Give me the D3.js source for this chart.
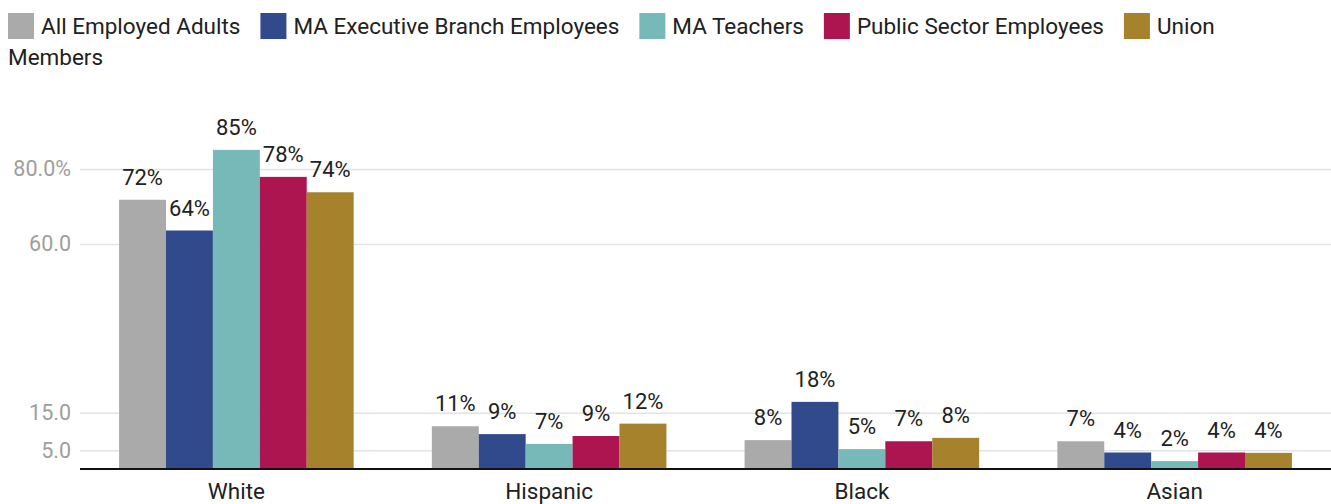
<!DOCTYPE html>
<html>
<head>
<meta charset="utf-8">
<script src="https://cdn.jsdelivr.net/npm/d3@7"></script>
<style>
  body { margin: 0; background: #fff; }
  text { font-family: Roboto, "Noto Sans", sans-serif; }
</style>
</head>
<body>
<div id="chart"></div>
<script>
var categories = ["White", "Hispanic", "Black", "Asian"];
var seriesNames = ["All Employed Adults", "MA Executive Branch Employees", "MA Teachers", "Public Sector Employees", "Union Members"];
var colors = ["#aaaaaa", "#314a8c", "#76b9b8", "#ad1550", "#a5822b"];
var allEmployed = [71.8, 11.4, 7.7, 7.4];
var execBranch = [63.6, 9.3, 17.9, 4.4];
var teachers = [85.1, 6.7, 5.3, 2.1];
var publicSector = [77.9, 8.8, 7.4, 4.4];
var unionMembers = [73.8, 12.1, 8.3, 4.3];
var tickValues = [5, 15, 60, 80];

var series = [allEmployed, execBranch, teachers, publicSector, unionMembers];

var width = 1331, height = 504;
var plotLeft = 80, plotRight = 1331, plotBottom = 469;

var svg = d3.select("#chart").append("svg")
  .attr("width", width)
  .attr("height", height);

var x0 = d3.scaleBand()
  .domain(categories)
  .range([plotLeft, plotRight])
  .paddingInner(0.25)
  .paddingOuter(0.125);

var x1 = d3.scaleBand()
  .domain(d3.range(series.length))
  .range([0, x0.bandwidth()]);

var y = d3.scaleLinear()
  .domain([0, 100])
  .range([plotBottom, 94]);

// gridlines + tick labels
var yAxis = d3.axisLeft(y)
  .tickValues(tickValues)
  .tickSize(-(plotRight - plotLeft))
  .tickPadding(9)
  .tickFormat(function(d) { return d === 80 ? d.toFixed(1) + "%" : d.toFixed(1); });

var gy = svg.append("g")
  .attr("transform", "translate(" + plotLeft + ",0)")
  .call(yAxis);
gy.select(".domain").remove();
gy.selectAll(".tick line").attr("stroke", "#e3e3e3").attr("stroke-width", 1.6);
gy.selectAll(".tick text")
  .attr("fill", "#9e9e9e")
  .style("font-size", "21.5px");

// bars
var groups = svg.selectAll(".group")
  .data(categories)
  .enter().append("g")
  .attr("class", "group")
  .attr("transform", function(d) { return "translate(" + x0(d) + ",0)"; });

groups.selectAll("rect")
  .data(function(d, i) { return series.map(function(s, k) { return { k: k, v: s[i] }; }); })
  .enter().append("rect")
  .attr("x", function(d) { return x1(d.k); })
  .attr("width", x1.bandwidth())
  .attr("y", function(d) { return y(d.v); })
  .attr("height", function(d) { return plotBottom - y(d.v); })
  .attr("fill", function(d) { return colors[d.k]; });

groups.selectAll(".lbl")
  .data(function(d, i) { return series.map(function(s, k) { return { k: k, v: s[i] }; }); })
  .enter().append("text")
  .attr("class", "lbl")
  .attr("x", function(d) { return x1(d.k) + x1.bandwidth() / 2; })
  .attr("y", function(d) { return y(d.v) - 15; })
  .attr("text-anchor", "middle")
  .attr("fill", "#212121")
  .style("font-size", "22px")
  .text(function(d) { return Math.round(d.v) + "%"; });

// baseline
svg.append("line")
  .attr("x1", plotLeft).attr("x2", plotRight)
  .attr("y1", plotBottom).attr("y2", plotBottom)
  .attr("stroke", "#111").attr("stroke-width", 2);

// category labels
var xAxis = d3.axisBottom(x0).tickSize(0).tickPadding(0);
var gx = svg.append("g")
  .attr("transform", "translate(0," + plotBottom + ")")
  .call(xAxis);
gx.select(".domain").remove();
gx.selectAll(".tick text")
  .attr("dy", null)
  .attr("y", 30)
  .attr("fill", "#212121")
  .style("font-size", "22.5px");

// legend, flowing words like wrapped text
var legend = svg.append("g").attr("class", "legend");
var fs = "22.5px";
var lx = 8, ly = 34, lineH = 31, maxX = 1280;
var measure = legend.append("text").style("font-size", fs);
function textW(s) { measure.text(s); return measure.node().getComputedTextLength(); }

seriesNames.forEach(function(name, i) {
  if (lx + 33 + textW(name.split(" ")[0]) > maxX) { lx = 8; ly += lineH; }
  legend.append("rect")
    .attr("x", lx).attr("y", ly - 21)
    .attr("width", 26).attr("height", 26)
    .attr("fill", colors[i]);
  lx += 33;
  var words = name.split(" "), line = "", startX = lx;
  words.forEach(function(w) {
    var test = line ? line + " " + w : w;
    if (startX + textW(test) > maxX && line) {
      legend.append("text").attr("x", startX).attr("y", ly)
        .attr("fill", "#212121").style("font-size", fs).text(line);
      ly += lineH; startX = 8; line = w;
    } else {
      line = test;
    }
  });
  legend.append("text").attr("x", startX).attr("y", ly)
    .attr("fill", "#212121").style("font-size", fs).text(line);
  lx = startX + textW(line) + 20;
});
measure.remove();
</script>
</body>
</html>
